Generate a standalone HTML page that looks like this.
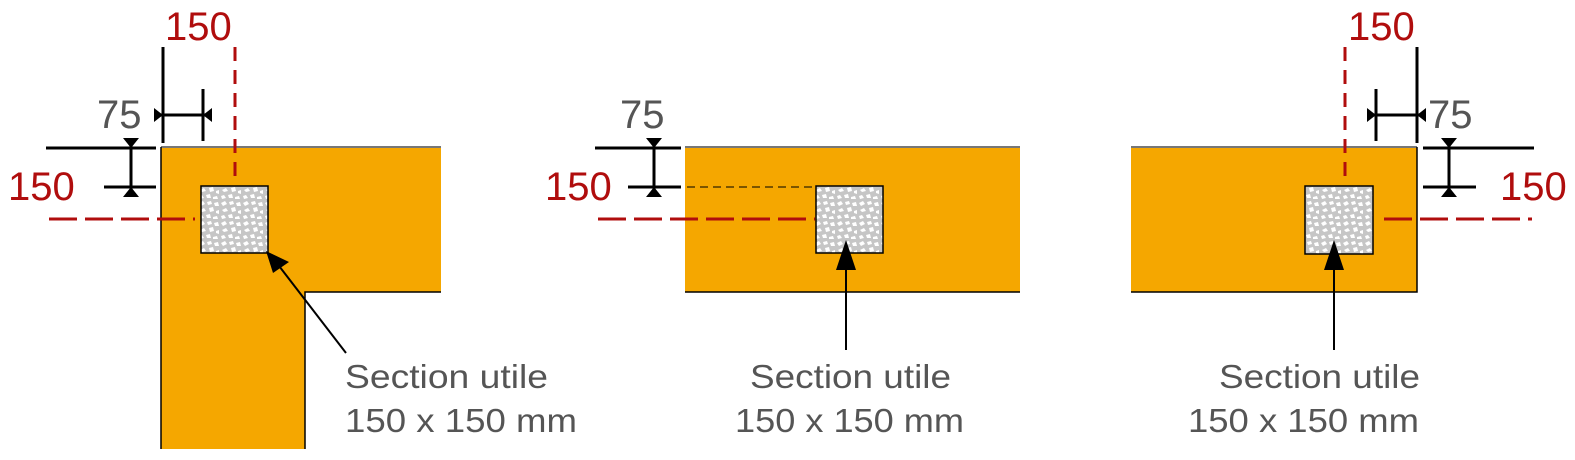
<!DOCTYPE html>
<html><head><meta charset="utf-8"><style>
html,body{margin:0;padding:0;background:#fff;width:1575px;height:460px;overflow:hidden}
svg{display:block}
text{font-family:"Liberation Sans",Arial,sans-serif}
</style></head><body>
<svg width="1575" height="460" viewBox="0 0 1575 460" xmlns="http://www.w3.org/2000/svg">
<defs>
<pattern id="conc" width="22" height="20" patternUnits="userSpaceOnUse">
<rect width="22" height="20" fill="#c6c6c6"/>
<g fill="#fff">
<polygon points="1,3 5,1 7,4 3,6"/><polygon points="9,2 13,1 14,4 10,5"/><polygon points="16,3 20,2 21,6 17,6"/>
<polygon points="2,10 6,8 8,11 4,12"/><polygon points="11,8 15,7 16,11 12,12"/><polygon points="18,11 21,10 21,14 18,13"/>
<polygon points="1,16 4,15 6,18 2,19"/><polygon points="8,15 12,14 13,18 9,18"/><polygon points="15,17 19,16 20,19 15,19"/>
</g>
</pattern>
</defs>

<!-- Panel 1 -->
<polygon points="161,147 441,147 441,292 305,292 305,449 161,449" fill="#f5a700"/>
<path d="M161,147 H441" stroke="#777" stroke-width="2"/>
<path d="M161,147 V449" stroke="#000" stroke-width="1.5"/>
<path d="M441,292 H305 V449" stroke="#000" stroke-width="1.5" fill="none"/>
<rect x="201" y="186" width="67" height="67" fill="url(#conc)" stroke="#000" stroke-width="1.5"/>
<path d="M235,47 V178" stroke="#b00d0d" stroke-width="3" stroke-dasharray="14,9"/>
<path d="M49,219 H195" stroke="#b00d0d" stroke-width="3" stroke-dasharray="28,8"/>
<path d="M163,47 V143 M203,89 V141 M156,115 H212 M46,148 H156 M104,187 H156 M131,140 V196" stroke="#000" stroke-width="3"/>
<polygon points="154,108 163,115 154,122" fill="#000"/><polygon points="212,108 203,115 212,122" fill="#000"/>
<polygon points="123,138 139,138 131,148" fill="#000"/><polygon points="123,197 139,197 131,187" fill="#000"/>
<line x1="346" y1="353" x2="276" y2="262" stroke="#000" stroke-width="2"/>
<polygon points="266,251 289,262 273,273" fill="#000"/>
<text x="165" y="40" font-size="40" fill="#b00d0d">150</text>
<text x="8" y="200" font-size="40" fill="#b00d0d">150</text>
<text x="97" y="128" font-size="40" fill="#555">75</text>
<text x="345" y="388" font-size="33" fill="#555" textLength="203" lengthAdjust="spacingAndGlyphs">Section utile</text>
<text x="345" y="432" font-size="33" fill="#555" textLength="232" lengthAdjust="spacingAndGlyphs">150 x 150 mm</text>

<!-- Panel 2 -->
<rect x="685" y="147" width="335" height="145" fill="#f5a700"/>
<path d="M685,147 H1020" stroke="#777" stroke-width="2"/>
<path d="M685,292 H1020" stroke="#000" stroke-width="1.5"/>
<rect x="816" y="186" width="67" height="67" fill="url(#conc)" stroke="#000" stroke-width="1.5"/>
<path d="M598,219 H815" stroke="#b00d0d" stroke-width="3" stroke-dasharray="28,8"/>
<path d="M687,187 H816" stroke="#000" stroke-width="1" stroke-dasharray="8,5"/>
<path d="M595,148 H681 M628,187 H681 M654,140 V196" stroke="#000" stroke-width="3"/>
<polygon points="646,138 662,138 654,148" fill="#000"/><polygon points="646,197 662,197 654,187" fill="#000"/>
<line x1="846" y1="350" x2="846" y2="260" stroke="#000" stroke-width="2"/>
<polygon points="846,240 836,270 856,270" fill="#000"/>
<text x="545" y="200" font-size="40" fill="#b00d0d">150</text>
<text x="620" y="128" font-size="40" fill="#555">75</text>
<text x="750" y="388" font-size="33" fill="#555" textLength="201" lengthAdjust="spacingAndGlyphs">Section utile</text>
<text x="735" y="432" font-size="33" fill="#555" textLength="229" lengthAdjust="spacingAndGlyphs">150 x 150 mm</text>

<!-- Panel 3 -->
<rect x="1131" y="147" width="286" height="145" fill="#f5a700"/>
<path d="M1131,147 H1417" stroke="#777" stroke-width="2"/>
<path d="M1131,292 H1417 V147" stroke="#000" stroke-width="1.5" fill="none"/>
<rect x="1305" y="186" width="68" height="68" fill="url(#conc)" stroke="#000" stroke-width="1.5"/>
<path d="M1345,47 V178" stroke="#b00d0d" stroke-width="3" stroke-dasharray="14,9"/>
<path d="M1384,219 H1532" stroke="#b00d0d" stroke-width="3" stroke-dasharray="28,8"/>
<path d="M1417,47 V143 M1376,89 V141 M1368,115 H1424 M1423,148 H1534 M1423,187 H1476 M1449,140 V196" stroke="#000" stroke-width="3"/>
<polygon points="1367,108 1376,115 1367,122" fill="#000"/><polygon points="1426,108 1417,115 1426,122" fill="#000"/>
<polygon points="1441,138 1457,138 1449,148" fill="#000"/><polygon points="1441,197 1457,197 1449,187" fill="#000"/>
<line x1="1334" y1="350" x2="1334" y2="260" stroke="#000" stroke-width="2"/>
<polygon points="1334,240 1324,270 1344,270" fill="#000"/>
<text x="1348" y="40" font-size="40" fill="#b00d0d">150</text>
<text x="1500" y="200" font-size="40" fill="#b00d0d">150</text>
<text x="1428" y="128" font-size="40" fill="#555">75</text>
<text x="1219" y="388" font-size="33" fill="#555" textLength="201" lengthAdjust="spacingAndGlyphs">Section utile</text>
<text x="1188" y="432" font-size="33" fill="#555" textLength="231" lengthAdjust="spacingAndGlyphs">150 x 150 mm</text>
</svg>
</body></html>
